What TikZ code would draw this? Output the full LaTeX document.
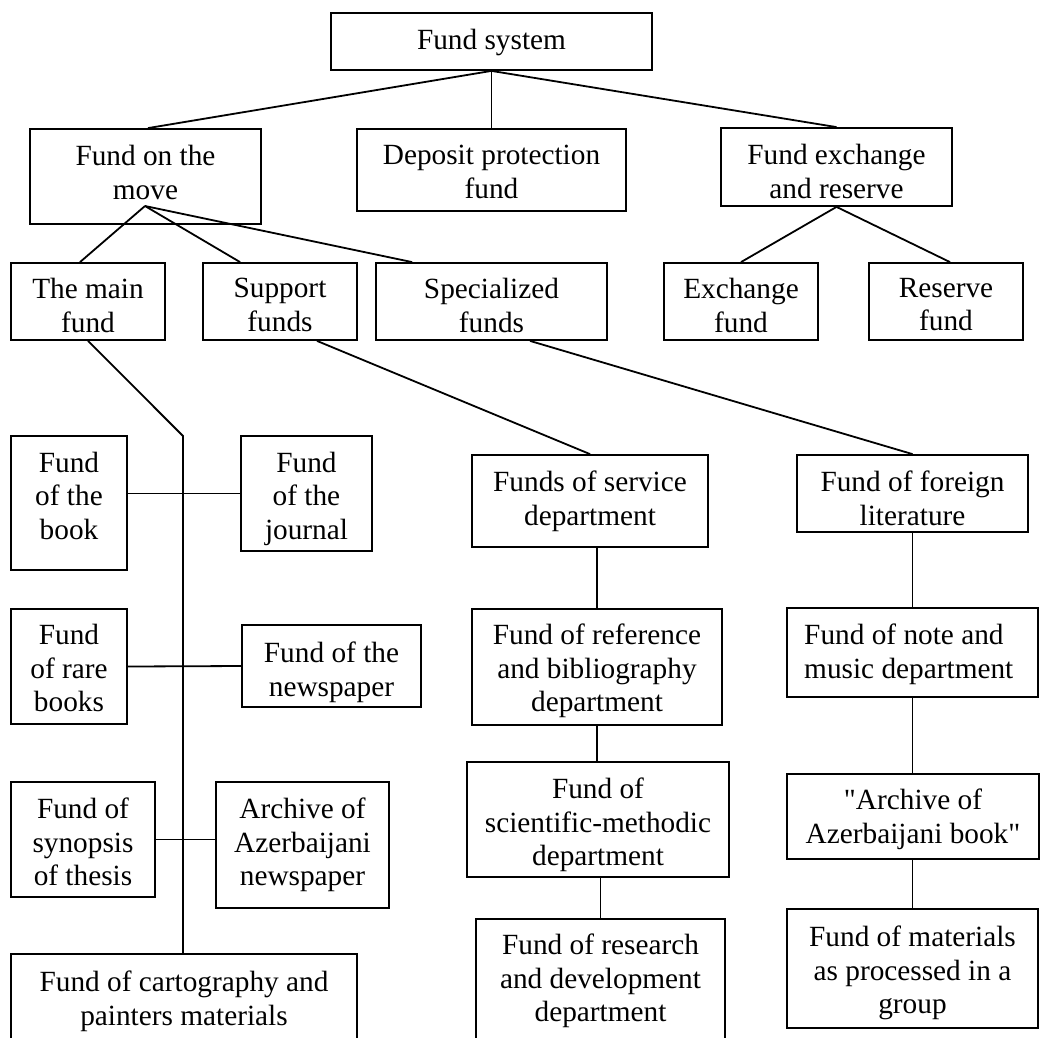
\documentclass[tikz,border=0pt]{standalone}
\usepackage{fontspec}
\setmainfont{Liberation Serif}
\newfontfamily\plainserif{Liberation Serif}
\begin{document}
\begin{tikzpicture}[x=1pt,y=-1pt,
  box/.style={draw, line width=1.8pt, inner sep=0pt},
  txt/.style={font=\fontsize{29.3}{33.5}\selectfont, align=center, inner sep=0pt, anchor=north},
  link/.style={draw, line width=1.8pt}]
\fill[white] (0,0) rectangle (1040,1037);
\useasboundingbox (0,0) rectangle (1040,1037);

% boxes
\node[box, minimum width=321pt, minimum height=57pt] (sys) at (491.5,41.5) {};
\node[box, minimum width=231pt, minimum height=95pt] (move) at (145.5,176.5) {};
\node[box, minimum width=269pt, minimum height=82pt] (dep) at (491.5,170) {};
\node[box, minimum width=231pt, minimum height=78pt] (exch) at (836.5,167) {};
\node[box, minimum width=154pt, minimum height=77pt] (main) at (88,301.5) {};
\node[box, minimum width=154pt, minimum height=77pt] (supp) at (280,301.5) {};
\node[box, minimum width=231pt, minimum height=77pt] (spec) at (491.5,301.5) {};
\node[box, minimum width=154pt, minimum height=77pt] (exf) at (741,301.5) {};
\node[box, minimum width=154pt, minimum height=77pt] (resf) at (946,301.5) {};
\node[box, minimum width=116pt, minimum height=134pt] (book) at (69,503) {};
\node[box, minimum width=131pt, minimum height=115pt] (journal) at (306.5,493.5) {};
\node[box, minimum width=236pt, minimum height=92pt] (service) at (590,501) {};
\node[box, minimum width=231pt, minimum height=77pt] (foreign) at (912.5,493.5) {};
\node[box, minimum width=116pt, minimum height=115pt] (rare) at (69,666.5) {};
\node[box, minimum width=179pt, minimum height=82pt] (newsp) at (331.5,666) {};
\node[box, minimum width=250pt, minimum height=116pt] (ref) at (597,667) {};
\node[box, minimum width=251pt, minimum height=89pt] (note) at (912.5,652.5) {};
\node[box, minimum width=144pt, minimum height=115pt] (synopsis) at (83,839.5) {};
\node[box, minimum width=173pt, minimum height=126pt] (azn) at (302.5,845) {};
\node[box, minimum width=262pt, minimum height=115pt] (sci) at (598,819.5) {};
\node[box, minimum width=252pt, minimum height=85pt] (azb) at (913,816.5) {};
\node[box, minimum width=346pt, minimum height=96pt] (carto) at (184,1002) {};
\node[box, minimum width=249pt, minimum height=123pt] (rd) at (600.5,980.5) {};
\node[box, minimum width=251pt, minimum height=119pt] (mat) at (912.5,968.5) {};

% texts
\node[txt] (tsys) at (491.5,29) {Fund system};
\node[txt] (tmove) at (145.5,145) {Fund on the\\move};
\node[txt] (tdep) at (491.5,145) {Deposit protection\\fund};
\node[txt] (texch) at (836.5,144) {Fund exchange\\and reserve};
\node[txt] (tmain) at (88,278) {The main\\fund};
\node[txt] (tsupp) at (280,278) {Support\\funds};
\node[txt] (tspec) at (491.5,278) {Specialized\\funds};
\node[txt] (texf) at (741,278) {Exchange\\fund};
\node[txt] (tresf) at (946,278) {Reserve\\fund};
\node[txt] (tbook) at (69,451.7) {Fund\\of the\\book};
\node[txt] (tjournal) at (306.5,451.7) {Fund\\of the\\journal};
\node[txt] (tservice) at (590,470.7) {Funds of service\\department};
\node[txt] (tforeign) at (912.5,470.7) {Fund of foreign\\literature};
\node[txt] (trare) at (69,624) {Fund\\of rare\\books};
\node[txt] (tnewsp) at (331.5,641.7) {Fund of the\\newspaper};
\node[txt] (tref) at (597,624) {Fund of reference\\and bibliography\\department};
\node[txt, align=left, anchor=north west] (tnote) at (804,624) {Fund of note and\\music department};
\node[txt] (tsynopsis) at (83,797.7) {Fund of\\synopsis\\of thesis};
\node[txt] (tazn) at (302.5,797.7) {Archive of\\Azerbaijani\\newspaper};
\node[txt] (tsci) at (598,778) {Fund of\\scientific-methodic\\department};
\node[txt] (tazb) at (913,789) {{\plainserif"}Archive of\\Azerbaijani book{\plainserif"}};
\node[txt] (tcarto) at (184,970.7) {Fund of cartography and\\painters materials};
\node[txt] (trd) at (600.5,934) {Fund of research\\and development\\department};
\node[txt] (tmat) at (912.5,925.7) {Fund of materials\\as processed in a\\group};

% connectors
\draw[link] (sys.south) -- ([xshift=2.5pt]move.north);
\draw[link] (sys.south) -- (dep.north);
\draw[link] (sys.south) -- (exch.north);
\coordinate (mvhub) at (145,206);
\draw[link] (mvhub) -- ([xshift=-8pt]main.north);
\draw[link] (mvhub) -- ([xshift=38pt]supp.north west);
\draw[link] (mvhub) -- ([xshift=37pt]spec.north west);
\draw[link] (exch.south) -- (exf.north);
\draw[link] (exch.south) -- ([xshift=4pt]resf.north);
\coordinate (mbend) at (183,436);
\draw[link] (main.south) -- (mbend) -- (mbend |- carto.north);
\draw[link] (book.east |- journal.west) -- (journal.west);
\draw[link] (rare.east) -- (newsp.west);
\draw[link] (synopsis.east) -- (synopsis.east -| azn.west);
\draw[link] ([xshift=37pt]supp.south) -- (service.north);
\draw[link] ([xshift=38.5pt]spec.south) -- (foreign.north);
\draw[link] (ref.north |- service.south) -- (ref.north);
\draw[link] (ref.south) -- (ref.south |- sci.north);
\draw[link] (rd.north |- sci.south) -- (rd.north);
\draw[link] (foreign.south) -- (note.north);
\draw[link] (note.south) -- (note.south |- azb.north);
\draw[link] (mat.north |- azb.south) -- (mat.north);
\end{tikzpicture}
\end{document}
